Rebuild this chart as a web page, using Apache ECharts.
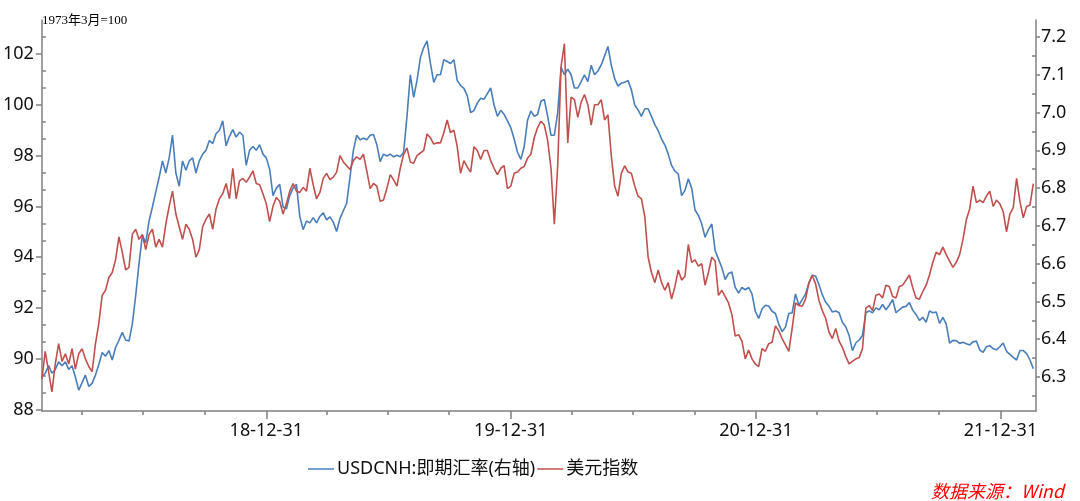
<!DOCTYPE html>
<html>
<head>
<meta charset="utf-8">
<script src="https://cdn.jsdelivr.net/npm/echarts@6/dist/echarts.min.js"></script>
<style>
html,body{margin:0;padding:0;background:#fff;}
#chart{width:1080px;height:501px;}
</style>
</head>
<body>
<div id="chart"></div>
<script>
// Sampling: one reading every 5 days starting 2018-01-30
const startDate = '2018-01-30';
const stepDays = 5;

// USDCNH spot (right axis)
const usdcnh = [
6.30,6.31,6.33,6.31,6.32,6.34,6.33,6.34,6.32,6.33,
6.30,6.265,6.285,6.305,6.275,6.283,6.305,6.333,6.365,6.355,
6.37,6.345,6.378,6.397,6.418,6.398,6.395,6.44,6.515,6.60,
6.675,6.655,6.713,6.75,6.79,6.828,6.872,6.84,6.88,6.94,
6.84,6.805,6.872,6.847,6.872,6.88,6.84,6.872,6.89,6.90,
6.926,6.918,6.944,6.953,6.978,6.912,6.937,6.955,6.935,6.948,
6.94,6.86,6.90,6.91,6.90,6.915,6.89,6.88,6.85,6.78,
6.80,6.81,6.75,6.745,6.78,6.80,6.81,6.725,6.69,6.713,
6.708,6.722,6.708,6.725,6.735,6.716,6.724,6.71,6.685,6.72,
6.74,6.76,6.83,6.90,6.94,6.928,6.932,6.928,6.94,6.942,
6.915,6.87,6.89,6.885,6.89,6.883,6.887,6.883,6.895,6.99,
7.10,7.04,7.085,7.145,7.172,7.19,7.13,7.08,7.10,7.10,
7.14,7.135,7.13,7.14,7.085,7.072,7.064,7.045,7.00,7.005,
7.025,7.038,7.035,7.05,7.065,7.02,6.99,7.006,6.995,6.978,
6.96,6.93,6.895,6.876,6.91,6.98,7.004,6.99,6.995,7.03,
7.035,6.99,6.94,6.94,7.00,7.12,7.10,7.115,7.10,7.065,
7.065,7.082,7.10,7.082,7.125,7.10,7.11,7.126,7.15,7.175,
7.125,7.09,7.07,7.078,7.08,7.085,7.06,7.02,7.007,6.99,
7.01,7.01,6.99,6.968,6.952,6.93,6.914,6.89,6.86,6.845,
6.838,6.78,6.794,6.825,6.80,6.742,6.728,6.705,6.67,6.69,
6.705,6.635,6.612,6.59,6.558,6.574,6.578,6.537,6.522,6.537,
6.531,6.537,6.52,6.474,6.455,6.48,6.49,6.488,6.474,6.468,
6.44,6.42,6.432,6.468,6.47,6.52,6.49,6.505,6.52,6.548,
6.57,6.567,6.545,6.518,6.498,6.487,6.472,6.475,6.47,6.445,
6.433,6.41,6.37,6.39,6.398,6.41,6.47,6.475,6.47,6.483,
6.478,6.492,6.478,6.49,6.505,6.47,6.478,6.485,6.487,6.497,
6.477,6.465,6.45,6.458,6.445,6.475,6.47,6.472,6.442,6.458,
6.44,6.39,6.397,6.396,6.389,6.392,6.388,6.385,6.393,6.395,
6.372,6.365,6.38,6.383,6.375,6.372,6.38,6.39,6.368,6.36,
6.352,6.345,6.37,6.37,6.362,6.345,6.322
];

// US dollar index (left axis)
const dxy = [
89.2,90.3,89.5,88.7,89.8,90.6,89.9,90.2,89.8,90.4,
89.6,90.2,90.4,90.0,89.7,89.5,90.6,91.4,92.5,92.7,
93.2,93.4,93.9,94.8,94.2,93.5,93.6,94.9,95.1,94.7,
94.9,94.3,94.9,95.1,94.4,94.7,94.4,95.3,96.0,96.6,
95.7,95.2,94.7,95.3,95.1,94.7,94.0,94.3,95.2,95.5,
95.7,95.1,95.9,96.3,96.5,96.9,96.3,97.5,96.3,97.0,
97.1,96.95,97.15,97.4,96.9,96.85,96.5,96.1,95.4,96.0,
96.35,96.2,95.7,96.1,96.6,96.9,96.6,96.55,96.75,96.6,
97.5,96.85,96.3,96.55,97.1,97.3,97.05,97.15,97.35,98.0,
97.75,97.6,97.45,97.8,97.95,97.85,98.05,97.4,96.7,96.9,
96.8,96.2,96.25,96.7,97.25,97.05,96.8,97.5,98.05,98.3,
97.75,97.7,98.0,98.1,98.2,98.85,98.7,98.45,98.5,98.5,
98.9,99.4,98.9,99.0,98.35,97.3,97.8,97.55,97.35,98.35,
98.2,97.85,98.2,98.2,97.8,97.5,97.25,97.5,97.6,96.7,
96.8,97.3,97.35,97.5,97.57,97.9,98.05,98.7,99.1,99.35,
99.2,98.6,97.5,95.3,97.6,101.5,102.4,98.5,100.3,100.2,
99.5,100.1,100.4,100.0,99.2,100.0,100.0,100.2,99.4,99.6,
98.0,96.8,96.4,97.3,97.6,97.35,97.3,96.8,96.4,96.3,
95.6,94.0,93.4,93.0,93.5,93.0,92.7,93.0,92.35,92.85,
93.5,93.1,93.25,94.5,93.8,93.9,93.65,93.75,92.9,93.4,
94.0,93.85,92.5,92.7,92.45,92.2,91.75,90.9,90.95,90.7,
90.0,90.35,90.0,89.8,89.7,90.4,90.3,90.6,90.65,91.3,
91.1,90.8,90.55,90.3,91.2,92.2,92.1,92.07,92.35,93.0,
93.28,92.95,92.3,91.9,91.6,91.05,90.8,91.2,90.7,90.45,
90.1,89.8,89.9,90.0,90.05,90.4,92.0,92.1,91.9,92.5,
92.55,92.4,92.9,92.85,92.45,92.4,92.85,92.9,93.1,93.3,
92.8,92.4,92.35,92.65,92.9,93.3,93.8,94.2,94.1,94.4,
94.1,93.85,93.6,93.8,94.1,94.7,95.47,95.9,96.8,96.15,
96.25,96.15,96.4,96.6,96.0,96.25,96.1,95.8,95.0,95.7,
95.95,97.1,96.2,95.55,96.0,96.05,96.9
];

const leftLabels = [88, 90, 92, 94, 96, 98, 100, 102];
const rightLabels = [6.3, 6.4, 6.5, 6.6, 6.7, 6.8, 6.9, 7.0, 7.1, 7.2];
const yearTicks = ['2018-12-31', '2019-12-31', '2020-12-31', '2021-12-31'];
const quarterTicks = ['2018-03-31','2018-06-30','2018-09-30','2019-03-31','2019-06-30','2019-09-30',
  '2020-03-31','2020-06-30','2020-09-30','2021-03-31','2021-06-30','2021-09-30'];
const seriesNames = ['USDCNH:即期汇率(右轴)', '美元指数'];

function ts(s) { const p = s.split('-').map(Number); return Date.UTC(p[0], p[1] - 1, p[2]); }
const DAY = 86400000;
const t0 = ts(startDate);
const dates = usdcnh.map((_, i) => t0 + i * stepDays * DAY);
const xMin = ts('2018-01-30');
const xMax = ts('2022-02-22');

const leftMin = 87.95, leftMax = 103.333;
const rightMin = 6.21, rightMax = 7.245;
const leftMinor = [];
for (let j = 1; j <= 23; j++) { if (j % 3 !== 0) leftMinor.push(88 + j * 2 / 3); }
const rightMinor = [];
for (let j = 0; j < 10; j++) { rightMinor.push(+(6.25 + j * 0.1).toFixed(2)); }

const axisColor = '#808080';
const fontFam = '"Noto Sans","Noto Sans CJK SC",sans-serif';

function fmtDate(v) {
  const d = new Date(v);
  const p = n => String(n).padStart(2, '0');
  return String(d.getUTCFullYear()).slice(2) + '-' + p(d.getUTCMonth() + 1) + '-' + p(d.getUTCDate());
}

const chart = echarts.init(document.getElementById('chart'), null, { renderer: 'canvas' });
chart.setOption({
  animation: false,
  backgroundColor: '#fff',
  grid: { left: 40, right: 44, top: 20, bottom: 90, containLabel: false },
  legend: {
    left: 303, top: 455,
    icon: 'rect',
    itemWidth: 26, itemHeight: 1.5, itemGap: 2,
    textStyle: { fontFamily: fontFam, fontSize: 18, color: '#111', padding: [0,0,0,-2] },
    data: seriesNames
  },
  graphic: [
    { type: 'text', left: 42, top: 14, style: { text: '1973年3月=100', font: '13px "Liberation Serif","Noto Sans CJK SC",serif', fill: '#000' } },
    { type: 'text', right: 16, top: 482, style: { text: '数据来源：Wind', font: 'italic 18px "Noto Sans CJK SC",sans-serif', fill: '#ff0000' } }
  ],
  xAxis: [
    {
      type: 'value', gridIndex: 0, position: 'bottom', min: xMin, max: xMax,
      axisLine: { show: true, onZero: false, lineStyle: { color: axisColor, width: 1.5 } },
      axisTick: { show: true, length: 8, customValues: yearTicks.map(ts), lineStyle: { color: axisColor, width: 1.5 } },
      axisLabel: { show: true, customValues: yearTicks.map(ts), formatter: fmtDate, margin: 11,
        fontFamily: fontFam, fontSize: 18, color: '#111' },
      splitLine: { show: false }
    },
    {
      type: 'value', gridIndex: 0, position: 'bottom', min: xMin, max: xMax,
      axisLine: { show: false, onZero: false },
      axisTick: { show: true, length: 4, customValues: quarterTicks.map(ts), lineStyle: { color: axisColor, width: 1.5 } },
      axisLabel: { show: false },
      splitLine: { show: false }
    }
  ],
  yAxis: [
    {
      type: 'value', gridIndex: 0, position: 'left', min: leftMin, max: leftMax,
      axisLine: { show: true, onZero: false, lineStyle: { color: axisColor, width: 1.5 } },
      axisTick: { show: true, length: 6, customValues: leftLabels, lineStyle: { color: axisColor, width: 1.5 } },
      axisLabel: { show: true, customValues: leftLabels, margin: 8, fontFamily: fontFam, fontSize: 18, color: '#111' },
      splitLine: { show: false }
    },
    {
      type: 'value', gridIndex: 0, position: 'right', min: rightMin, max: rightMax,
      axisLine: { show: true, onZero: false, lineStyle: { color: axisColor, width: 1.5 } },
      axisTick: { show: true, length: 4, customValues: rightLabels, lineStyle: { color: axisColor, width: 1.5 } },
      axisLabel: { show: true, customValues: rightLabels, margin: 5, formatter: v => Number(v).toFixed(1),
        fontFamily: fontFam, fontSize: 18, color: '#111' },
      splitLine: { show: false }
    },
    {
      type: 'value', gridIndex: 0, position: 'left', min: leftMin, max: leftMax,
      axisLine: { show: false, onZero: false },
      axisTick: { show: true, inside: true, length: 4, customValues: leftMinor, lineStyle: { color: axisColor, width: 1.5 } },
      axisLabel: { show: false },
      splitLine: { show: false }
    },
    {
      type: 'value', gridIndex: 0, position: 'right', min: rightMin, max: rightMax,
      axisLine: { show: false, onZero: false },
      axisTick: { show: true, inside: true, length: 4, customValues: rightMinor, lineStyle: { color: axisColor, width: 1.5 } },
      axisLabel: { show: false },
      splitLine: { show: false }
    }
  ],
  series: [
    {
      name: seriesNames[0], type: 'line', xAxisIndex: 0, yAxisIndex: 1,
      data: dates.map((d, i) => [d, usdcnh[i]]),
      symbol: 'none', showSymbol: false,
      lineStyle: { color: '#4A7EBB', width: 1.6 }, itemStyle: { color: '#4A7EBB' }
    },
    {
      name: seriesNames[1], type: 'line', xAxisIndex: 0, yAxisIndex: 0,
      data: dates.map((d, i) => [d, dxy[i]]),
      symbol: 'none', showSymbol: false,
      lineStyle: { color: '#C0504D', width: 1.6 }, itemStyle: { color: '#C0504D' }
    }
  ]
});
</script>
</body>
</html>
